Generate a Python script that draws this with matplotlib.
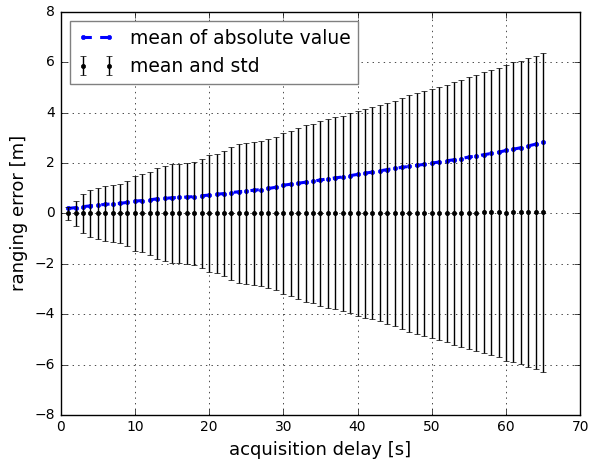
import numpy as np
import matplotlib
matplotlib.use("Agg")
import matplotlib.pyplot as plt

plt.style.use("classic")

delay = list(range(1, 66))

mean_err = [0.0] * 55 + [0.02, 0.04, 0.05, 0.04, 0.03, 0.05, 0.04, 0.05, 0.05, 0.05]

std_err = [0.25, 0.49, 0.78, 0.93, 1.00, 1.09, 1.14, 1.16, 1.30, 1.49,
           1.55, 1.65, 1.82, 1.88, 1.95, 1.98, 2.00, 2.04, 2.18, 2.32,
           2.37, 2.48, 2.65, 2.75, 2.81, 2.84, 2.87, 2.95, 3.04, 3.20,
           3.28, 3.41, 3.52, 3.57, 3.68, 3.75, 3.81, 3.88, 3.97, 4.08,
           4.14, 4.21, 4.29, 4.37, 4.47, 4.57, 4.71, 4.78, 4.87, 4.96,
           5.03, 5.11, 5.22, 5.31, 5.40, 5.48, 5.58, 5.66, 5.74, 5.87,
           5.95, 6.03, 6.13, 6.21, 6.33]

mean_abs = [0.20, 0.23, 0.27, 0.30, 0.33, 0.36, 0.38, 0.40, 0.44, 0.49,
            0.51, 0.54, 0.58, 0.60, 0.62, 0.64, 0.65, 0.67, 0.70, 0.73,
            0.76, 0.79, 0.83, 0.86, 0.89, 0.92, 0.95, 0.99, 1.04, 1.12,
            1.16, 1.20, 1.24, 1.28, 1.33, 1.37, 1.41, 1.45, 1.50, 1.55,
            1.60, 1.64, 1.69, 1.74, 1.79, 1.83, 1.87, 1.91, 1.95, 2.00,
            2.04, 2.09, 2.13, 2.18, 2.24, 2.28, 2.33, 2.38, 2.43, 2.50,
            2.55, 2.61, 2.68, 2.75, 2.82]

x_ticks = [0, 10, 20, 30, 40, 50, 60, 70]
y_ticks = [-8, -6, -4, -2, 0, 2, 4, 6, 8]

fig = plt.figure(figsize=(5.89, 4.59), dpi=100, facecolor="white")
ax = fig.add_axes([0.103, 0.096, 0.882, 0.878])

ax.plot(delay, mean_abs, "b--", marker=".", markersize=6, linewidth=2.2,
        markeredgecolor="b", label="mean of absolute value")
ax.errorbar(delay, mean_err, yerr=std_err, fmt="k.", markersize=6,
            ecolor="k", elinewidth=1, capsize=2.5, label="mean and std")

ax.set_xlim(0, 70)
ax.set_ylim(-8, 8)
ax.set_xticks(x_ticks)
ax.set_yticks(y_ticks)
ax.tick_params(labelsize=10)
ax.grid(True, color="k", linestyle=":", linewidth=0.5)
ax.set_xlabel("acquisition delay [s]", fontsize=13)
ax.set_ylabel("ranging error [m]", fontsize=13)

leg = ax.legend(loc="upper left", fontsize=13.5, numpoints=2, fancybox=False)
leg.get_frame().set_edgecolor("0.5")

fig.savefig("out.png", dpi=100, facecolor="white")
